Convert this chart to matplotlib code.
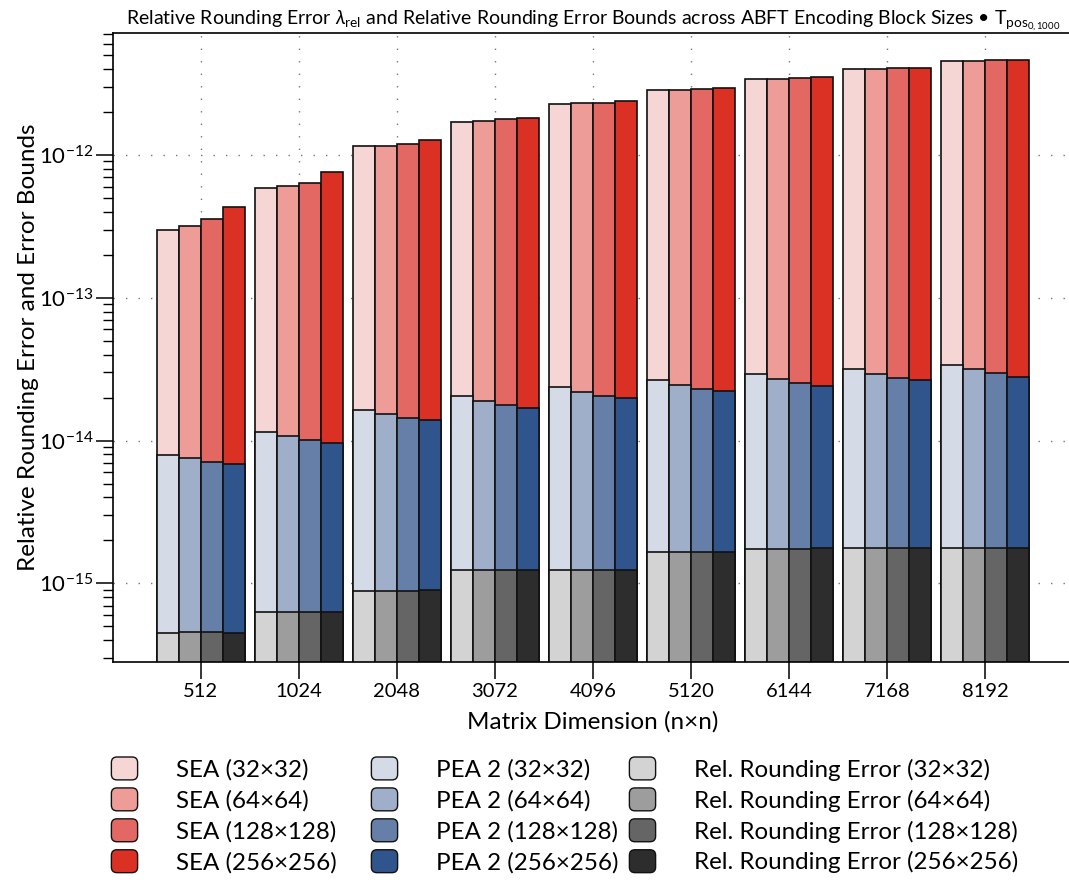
import matplotlib
matplotlib.use("Agg")
import matplotlib.pyplot as plt
from matplotlib.patches import Patch, FancyBboxPatch
from matplotlib.legend_handler import HandlerPatch
from matplotlib.ticker import FixedLocator, LogLocator, NullFormatter
import numpy as np

plt.rcParams['font.family'] = ['Lato', 'DejaVu Sans']
plt.rcParams['mathtext.fontset'] = 'custom'
plt.rcParams['mathtext.rm'] = 'Lato'
plt.rcParams['mathtext.it'] = 'Lato:italic'
plt.rcParams['mathtext.bf'] = 'Lato:bold'

dims = ['512', '1024', '2048', '3072', '4096', '5120', '6144', '7168', '8192']
blocks = ['32×32', '64×64', '128×128', '256×256']
y_major = [1e-15, 1e-14, 1e-13, 1e-12]

sea = [
    [3.00e-13, 5.83e-13, 1.148e-12, 1.705e-12, 2.278e-12, 2.83e-12, 3.40e-12, 3.99e-12, 4.55e-12],
    [3.18e-13, 6.02e-13, 1.163e-12, 1.727e-12, 2.293e-12, 2.85e-12, 3.42e-12, 3.99e-12, 4.55e-12],
    [3.58e-13, 6.39e-13, 1.195e-12, 1.774e-12, 2.323e-12, 2.88e-12, 3.44e-12, 4.04e-12, 4.61e-12],
    [4.31e-13, 7.53e-13, 1.268e-12, 1.809e-12, 2.370e-12, 2.92e-12, 3.49e-12, 4.04e-12, 4.61e-12],
]
pea2 = [
    [7.96e-15, 1.150e-14, 1.643e-14, 2.040e-14, 2.360e-14, 2.670e-14, 2.91e-14, 3.17e-14, 3.39e-14],
    [7.55e-15, 1.080e-14, 1.528e-14, 1.888e-14, 2.190e-14, 2.455e-14, 2.71e-14, 2.93e-14, 3.15e-14],
    [7.08e-15, 1.010e-14, 1.440e-14, 1.778e-14, 2.055e-14, 2.300e-14, 2.54e-14, 2.75e-14, 2.95e-14],
    [6.80e-15, 9.640e-15, 1.384e-14, 1.698e-14, 1.977e-14, 2.210e-14, 2.42e-14, 2.64e-14, 2.80e-14],
]
rel_err = [
    [4.48e-16, 6.35e-16, 8.89e-16, 1.244e-15, 1.25e-15, 1.65e-15, 1.75e-15, 1.76e-15, 1.76e-15],
    [4.54e-16, 6.35e-16, 8.89e-16, 1.244e-15, 1.25e-15, 1.65e-15, 1.75e-15, 1.76e-15, 1.76e-15],
    [4.54e-16, 6.27e-16, 8.89e-16, 1.244e-15, 1.25e-15, 1.65e-15, 1.75e-15, 1.76e-15, 1.76e-15],
    [4.51e-16, 6.35e-16, 8.92e-16, 1.244e-15, 1.25e-15, 1.65e-15, 1.76e-15, 1.76e-15, 1.76e-15],
]

sea_colors = ['#f6d5d5', '#ed9c98', '#e36762', '#da3124']
pea_colors = ['#d4dae6', '#9faec9', '#667fa9', '#2f558c']
rel_colors = ['#d3d3d3', '#9d9d9d', '#656565', '#2d2d2d']

fig = plt.figure(figsize=(10.69, 8.80), dpi=100)
ax = fig.add_axes([112.7 / 1069, 1 - 661.7 / 880, (1073 - 112.7) / 1069, (661.7 - 32.7) / 880])

x = np.arange(len(dims))
width = 0.225
offsets = (np.arange(4) - 1.5) * width
edge = '#111111'

# back to front: bounds first, measured error last
for series, colors in [(sea, sea_colors), (pea2, pea_colors), (rel_err, rel_colors)]:
    for k in range(4):
        ax.bar(x + offsets[k], series[k], width=width, color=colors[k],
               edgecolor=edge, linewidth=1.2, zorder=2)

ax.set_yscale('log')
ax.set_ylim(2.83e-16, 7.17e-12)
ax.set_xlim(-0.8976, 8.8976)

ax.yaxis.set_major_locator(FixedLocator(y_major))
ax.yaxis.set_minor_locator(LogLocator(base=10, subs=np.arange(2, 10), numticks=20))
ax.yaxis.set_minor_formatter(NullFormatter())
ax.set_xticks(x)
ax.set_xticklabels(dims)

ax.tick_params(axis='both', which='major', direction='out', length=12, width=1.1,
               labelsize=14.5, pad=3)
ax.tick_params(axis='y', which='minor', direction='out', length=7, width=1.0)
ax.tick_params(axis='y', which='major', labelsize=16, pad=2)

ax.grid(True, which='major', axis='both', color='#777777', linestyle=(0, (1, 8)),
        linewidth=1.0, zorder=0)
ax.set_axisbelow(True)

for s in ['left', 'bottom', 'top']:
    ax.spines[s].set_linewidth(1.2)
ax.spines['right'].set_visible(False)

ax.set_xlabel('Matrix Dimension (n×n)', fontsize=17.5, labelpad=8)
ax.set_ylabel('Relative Rounding Error and Error Bounds', fontsize=17.5, labelpad=0)
ax.set_title(r'Relative Rounding Error $\lambda_{\mathrm{rel}}$ and Relative Rounding Error Bounds '
             r'across ABFT Encoding Block Sizes • T$_{\mathrm{pos}_{0,1000}}$',
             fontsize=14, pad=5)


def rounded(legend, orig_handle, xdescent, ydescent, width, height, fontsize):
    return FancyBboxPatch((-xdescent + 1, -ydescent), width - 2, height,
                          boxstyle='round,pad=0,rounding_size=4')


groups = [('SEA', sea_colors, 110), ('PEA 2', pea_colors, 370), ('Rel. Rounding Error', rel_colors, 628)]
for name, colors, xpix in groups:
    handles = [Patch(facecolor=c, edgecolor=edge, linewidth=1.0) for c in colors]
    labels = [f'{name} ({b})' for b in blocks]
    fig.legend(handles, labels, ncol=1, loc='upper left',
               bbox_to_anchor=(xpix / 1069, 1 - 757 / 880),
               frameon=False, fontsize=17.4, handlelength=1.2, handleheight=1.08,
               handletextpad=1.55, labelspacing=0.3, borderpad=0, borderaxespad=0,
               handler_map={Patch: HandlerPatch(patch_func=rounded)})

fig.savefig('out.png', dpi=100)
